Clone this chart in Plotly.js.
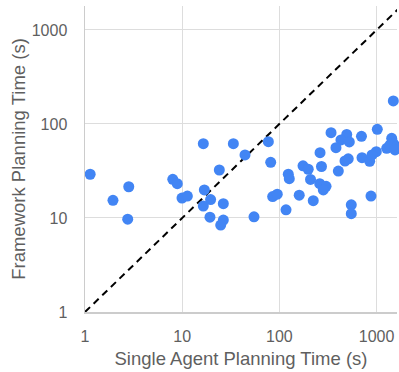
<!DOCTYPE html>
<html>
<head>
<meta charset="utf-8">
<script src="https://cdn.plot.ly/plotly-3.0.1.min.js"></script>
<style>html,body{margin:0;padding:0;background:#fff;}#chart{width:399px;height:372px;}</style>
</head>
<body>
<div id="chart"></div>
<script>
const singleAgentTime = [1.13, 2.82, 1.94, 2.75, 8.0, 8.9, 9.95, 11.3, 16.5, 33.6, 77, 44.3, 81.4, 24.1, 16.9, 19.6, 16.5, 26.5, 19.3, 26.5, 24.9, 54.8, 85.3, 95.1, 117, 1486, 340, 493, 430, 524, 382, 699, 1017, 1430, 1486, 1270, 1374, 1610, 1546, 262, 511, 473, 708, 849, 993, 897, 271, 175, 198, 404, 123.5, 126.4, 209, 260, 302, 283, 160, 223, 549, 549, 876];
const frameworkTime = [29.2, 21.5, 15.4, 9.7, 25.8, 23.2, 16.3, 17.1, 61.7, 61.7, 64.8, 46.8, 39.1, 32.4, 19.9, 15.7, 13.4, 14.2, 10.2, 9.5, 8.4, 10.3, 16.9, 17.9, 12.2, 176, 80.8, 77.3, 67.6, 64.4, 56.0, 74.0, 87.8, 70.4, 62.3, 55.1, 59.8, 57.4, 52.9, 49.5, 42.6, 40.4, 43.8, 40.1, 50.7, 46.8, 35.3, 35.9, 33.0, 31.6, 29.2, 26.2, 25.7, 23.2, 21.7, 19.9, 17.5, 15.3, 13.8, 11.1, 17.1];
const diagonal = [1, 3000];
const tickValues = [1, 10, 100, 1000];
const tickLabels = ['1', '10', '100', '1000'];

const font = 'Liberation Sans, Arial, sans-serif';
const traces = [
  {
    x: diagonal, y: diagonal, mode: 'lines', type: 'scatter', hoverinfo: 'skip',
    line: {color: '#000000', width: 2, dash: '7px,5px'}
  },
  {
    x: singleAgentTime, y: frameworkTime, mode: 'markers', type: 'scatter',
    marker: {color: '#4285F4', size: 11, line: {width: 0}},
    cliponaxis: false
  }
];
const axisBase = {
  type: 'log', tickvals: tickValues, ticktext: tickLabels,
  showgrid: true, gridcolor: '#dddddd', gridwidth: 1,
  showline: true, linecolor: '#cccccc', linewidth: 1.5,
  zeroline: false, ticks: '',
  tickfont: {family: font, size: 16, color: '#5f5f5f'}
};
const layout = {
  width: 399, height: 372,
  margin: {l: 85, r: 2, t: 6, b: 60},
  paper_bgcolor: '#ffffff', plot_bgcolor: '#ffffff',
  showlegend: false,
  xaxis: Object.assign({}, axisBase, {
    range: [0, 3.21], ticklabelstandoff: 9,
    title: {text: 'Single Agent Planning Time (s)', font: {family: font, size: 18.5, color: '#5f5f5f'}, standoff: 8}
  }),
  yaxis: Object.assign({}, axisBase, {
    range: [0, 3.255], ticklabelstandoff: 13,
    title: {text: 'Framework Planning Time (s)', font: {family: font, size: 18.5, color: '#5f5f5f'}, standoff: 1}
  })
};
Plotly.newPlot('chart', traces, layout, {staticPlot: true, displayModeBar: false});
</script>
</body>
</html>
